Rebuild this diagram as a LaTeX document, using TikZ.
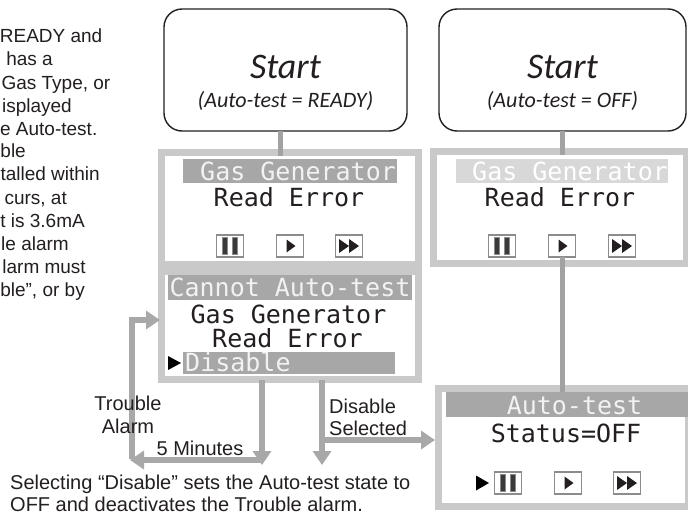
\documentclass[tikz,border=0pt]{standalone}
\usepackage{fontspec}
\setmainfont{Liberation Sans}
\newfontfamily\startfont{Carlito}
\newfontfamily\lcdfont{DejaVu Sans Mono}
\usetikzlibrary{arrows.meta}
\definecolor{framegray}{HTML}{C9C9C9}
\definecolor{bargray}{HTML}{A7A7A7}
\definecolor{lightbar}{HTML}{D8D8D8}
\definecolor{linegray}{HTML}{A8A8A8}
\definecolor{conngray}{HTML}{A2A2A2}
\definecolor{bartext}{HTML}{F2F2F2}
\definecolor{btnedge}{HTML}{8C8C8C}
\definecolor{inkblack}{HTML}{231F20}
\definecolor{pausefill}{HTML}{3A3A3A}
\tikzset{
  startbox/.style={draw=inkblack, line width=1.4pt, rounded corners=18pt, minimum height=122pt, inner sep=0pt, outer sep=0pt, fill=white},
  startword/.style={font=\startfont\itshape\fontsize{36pt}{36pt}\selectfont, text=inkblack, inner sep=0pt, anchor=base},
  startsub/.style={font=\startfont\itshape\fontsize{22pt}{22pt}\selectfont, text=inkblack, inner sep=0pt, anchor=base},
  screen/.style={draw=framegray, line width=7pt, fill=white, inner sep=0pt, outer sep=0pt},
  lcdbar/.style={fill=#1, inner sep=0pt, outer sep=0pt},
  lcd/.style={font=\lcdfont\fontsize{25pt}{25pt}\selectfont, inner sep=0pt, anchor=base, text=inkblack},
  note/.style={font=\fontsize{20pt}{22pt}\selectfont, inner sep=0pt, anchor=base, text=inkblack},
  sidenote/.style={font=\fontsize{19pt}{23pt}\selectfont, inner sep=0pt, anchor=base east, text=inkblack},
  flow/.style={draw=linegray, line width=6pt},
  arr/.style={flow, -{Triangle[length=14pt,width=18pt]}},
  conn/.style={draw=conngray, line width=5pt},
  btn/.style={draw=btnedge, line width=1.4pt, fill=white, minimum width=27pt, minimum height=22pt, inner sep=0pt, outer sep=0pt},
  pausebtn/.style={btn, path picture={
    \filldraw[fill=pausefill, draw=btnedge, line width=0.8pt]
      ([shift={(-7.8pt,-8.5pt)}]path picture bounding box.center) rectangle ([shift={(-2.2pt,8.5pt)}]path picture bounding box.center);
    \filldraw[fill=pausefill, draw=btnedge, line width=0.8pt]
      ([shift={(2.2pt,-8.5pt)}]path picture bounding box.center) rectangle ([shift={(7.8pt,8.5pt)}]path picture bounding box.center);
  }},
  playbtn/.style={btn, path picture={
    \fill[inkblack] ([shift={(-3.5pt,6.5pt)}]path picture bounding box.center) -- ([shift={(-3.5pt,-6.5pt)}]path picture bounding box.center) -- ([shift={(5.5pt,0pt)}]path picture bounding box.center) -- cycle;
  }},
  ffbtn/.style={btn, path picture={
    \fill[inkblack] ([shift={(-10pt,7pt)}]path picture bounding box.center) -- ([shift={(-10pt,-7pt)}]path picture bounding box.center) -- ([shift={(0pt,0pt)}]path picture bounding box.center) -- cycle;
    \fill[inkblack] ([shift={(0pt,7pt)}]path picture bounding box.center) -- ([shift={(0pt,-7pt)}]path picture bounding box.center) -- ([shift={(10pt,0pt)}]path picture bounding box.center) -- cycle;
  }},
}
\begin{document}
\begin{tikzpicture}[x=1pt,y=-1pt]
\useasboundingbox[fill=white] (0,0) rectangle (688,517);

% left paragraph (cut by the picture edge)
\node[sidenote] (p1) at (102.5,42) {READY and};
\node[sidenote] (p2) at (53,65) {has a};
\node[sidenote] (p3) at (110.5,89) {Gas Type, or};
\node[sidenote] (p4) at (72,112) {isplayed};
\node[sidenote] (p5) at (97.5,135) {e Auto-test.};
\node[sidenote] (p6) at (26,157) {ble};
\node[sidenote] (p7) at (100,180) {talled within};
\node[sidenote] (p8) at (67,204) {curs, at};
\node[sidenote] (p9) at (85,227) {t is 3.6mA};
\node[sidenote] (p10) at (69,250) {le alarm};
\node[sidenote] (p11) at (86,273) {larm must};
\node[sidenote] (p12) at (85,296) {ble”, or by};

% screens
\node[screen, minimum width=257pt, minimum height=112pt] (scr1) at (290,208.5) {};
\node[screen, minimum width=257pt, minimum height=108pt] (scr3) at (290,325.5) {};
\node[screen, minimum width=253pt, minimum height=112pt] (scr2) at (560,207.5) {};
\node[screen, minimum width=250pt, minimum height=118pt] (scr6) at (563.5,447.5) {};

% flow arrows
\coordinate (tbot) at (132,459);
\coordinate (m5c) at (262,460);
\coordinate (m5tip) at (130,460);
\coordinate (dbr) at (322,440);
\coordinate (dtip) at (322,465);
\draw[arr] (tbot) |- ([xshift=-1.5pt,yshift=5.5pt]scr3.west);
\draw[arr] (scr3.south -| m5c) -- ([yshift=-5pt]m5c);
\draw[arr] (m5c) -- (m5tip);
\draw[arr] (scr3.south -| dbr) -- (dtip);
\draw[arr] (dbr) -- ([xshift=-3.5pt]scr6.west |- dbr);

% bars
\node[lcdbar=bargray, minimum width=214pt, minimum height=24pt] (bar1) at (290,171) {};
\node[lcdbar=lightbar, minimum width=212pt, minimum height=24pt] (bar2) at (562,171) {};
\node[lcdbar=bargray, minimum width=244pt, minimum height=25pt] (bar3) at (290,287.5) {};
\node[lcdbar=bargray, minimum width=212pt, minimum height=22pt] (bar4) at (289,363) {};
\node[lcdbar=bargray, minimum width=244pt, minimum height=25pt] (bar5) at (568,404.5) {};

% screen texts
\node[lcd, text=bartext, anchor=base west] (t1) at (200,180) {Gas Generator};
\node[lcd] (t2) at (289,206) {Read Error};
\node[lcd, text=white, anchor=base west] (t3) at (472,180) {Gas Generator};
\node[lcd] (t4) at (560,206) {Read Error};
\node[lcd, text=bartext] (t5) at (290,296) {Cannot Auto-test};
\node[lcd] (t6) at (288.5,323) {Gas Generator};
\node[lcd] (t7) at (287.5,347) {Read Error};
\node[lcd, text=bartext, anchor=base west] (t8) at (185,371) {Disable};
\node[lcd, text=bartext] (t9) at (574.5,414) {Auto-test};
\node[lcd] (t10) at (566,442) {Status=OFF};
\fill[black] (168,356) -- (168,370) -- (181,363) -- cycle;
\fill[black] (476,475.5) -- (476,490.5) -- (489,483) -- cycle;

% start boxes
\node[startbox, minimum width=243pt] (start1) at (285.5,70) {};
\node[startbox, minimum width=247pt] (start2) at (562.5,70) {};
\node[startword] (s1) at (285.5,78.5) {Start};
\node[startsub] (s1b) at (285.5,107) {(Auto-test = READY)};
\node[startword] (s2) at (562.5,78.5) {Start};
\node[startsub] (s2b) at (562.5,107) {(Auto-test = OFF)};

% buttons
\node[pausebtn] (pauseL) at (230,246) {};
\node[playbtn] (playL) at (290,246) {};
\node[ffbtn] (ffL) at (349,246) {};
\node[pausebtn] (pauseR) at (502,246) {};
\node[playbtn] (playR) at (562,246) {};
\node[ffbtn] (ffR) at (622,246) {};
\node[pausebtn] (pauseA) at (508,483) {};
\node[playbtn] (playA) at (568,483) {};
\node[ffbtn] (ffA) at (627,483) {};

% connectors
\draw[conn] ([xshift=-5.5pt]start1.south) -- ([xshift=-5.5pt,yshift=-3.5pt]start1.south |- scr1.north);
\draw[conn] (start2.south) -- ([yshift=-3.5pt]start2.south |- scr2.north);
\draw[conn] (playR.south) -- (playR.south |- bar5.north);

% labels
\node[note] (lt1) at (128,410) {Trouble};
\node[note] (lt2) at (128,433) {Alarm};
\node[note] (l5) at (200,455) {5 Minutes};
\node[note, anchor=base west] (ld1) at (329,413) {Disable};
\node[note, anchor=base west] (ld2) at (329,435) {Selected};
\node[note, anchor=base west] (b1) at (10,489) {Selecting “Disable” sets the Auto-test state to};
\node[note, anchor=base west] (b2) at (10,511) {OFF and deactivates the Trouble alarm.};
\end{tikzpicture}
\end{document}
